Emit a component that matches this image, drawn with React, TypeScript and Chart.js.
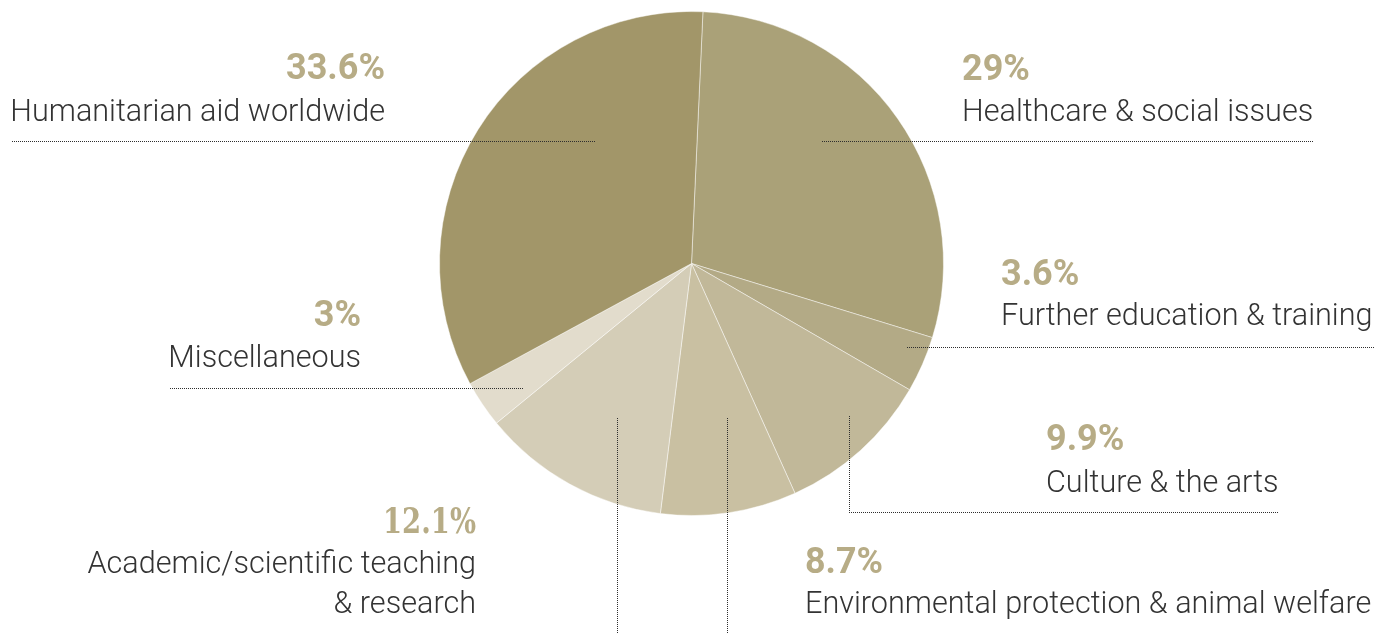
import React, { useEffect, useRef } from "react";
import { Chart, registerables } from "chart.js";

Chart.register(...registerables);

const categories = [
  "Healthcare & social issues",
  "Further education & training",
  "Culture & the arts",
  "Environmental protection & animal welfare",
  "Academic/scientific teaching & research",
  "Miscellaneous",
  "Humanitarian aid worldwide",
];
const shares = [29, 3.6, 9.9, 8.7, 12.1, 3, 33.6];
const percentLabels = ["29%", "3.6%", "9.9%", "8.7%", "12.1%", "3%", "33.6%"];
const sliceColors = ["#aaa178", "#b3aa86", "#c1b899", "#c9c0a2", "#d4cdb7", "#e2dccc", "#a29669"];

type Layout = {
  align: CanvasTextAlign;
  x: number;
  pctY: number;
  lines: string[];
  lineYs: number[];
  maxWidth?: number;
  pctMaxWidth?: number;
  pctFont?: string;
  leader: number[][];
};

// label layout (annotation positions), same order as categories
const labelLayout: Layout[] = [
  { align: "left", x: 962, pctY: 80, lines: ["Healthcare & social issues"], lineYs: [121], leader: [[822, 141], [1313, 141]] },
  { align: "left", x: 1001, pctY: 285, lines: ["Further education & training"], lineYs: [325], leader: [[907, 347], [1374, 347]] },
  { align: "left", x: 1046, pctY: 450, lines: ["Culture & the arts"], lineYs: [492], leader: [[849, 416], [849, 512], [1278, 512]] },
  { align: "left", x: 805, pctY: 573, lines: ["Environmental protection & animal welfare"], lineYs: [613], maxWidth: 569, pctMaxWidth: 78, leader: [[727, 418], [727, 640]] },
  { align: "right", x: 476, pctY: 533, lines: ["Academic/scientific teaching", "& research"], lineYs: [573, 613], pctMaxWidth: 93, pctFont: "bold 36px 'DejaVu Serif', serif", leader: [[617, 418], [617, 640]] },
  { align: "right", x: 361, pctY: 326, lines: ["Miscellaneous"], lineYs: [367], leader: [[170, 388], [522, 388]] },
  { align: "right", x: 385, pctY: 79, lines: ["Humanitarian aid worldwide"], lineYs: [121], leader: [[12, 141], [595, 141]] },
];

function dottedSegment(ctx: CanvasRenderingContext2D, x0: number, y0: number, x1: number, y1: number) {
  const len = Math.max(Math.abs(x1 - x0), Math.abs(y1 - y0));
  for (let s = 0; s <= len; s += 2) {
    const t = len === 0 ? 0 : s / len;
    const px = Math.round(x0 + (x1 - x0) * t);
    const py = Math.round(y0 + (y1 - y0) * t);
    ctx.fillRect(px, py, 1, 1);
  }
}

const labelPlugin = {
  id: "pieLabels",
  afterDraw(chart: any) {
    const ctx = chart.ctx as CanvasRenderingContext2D;
    ctx.save();
    labelLayout.forEach((l, i) => {
      ctx.fillStyle = "#2e2e2e";
      for (let j = 1; j < l.leader.length; j++) {
        const a = l.leader[j - 1];
        const b = l.leader[j];
        dottedSegment(ctx, a[0], a[1], b[0], b[1]);
      }

      ctx.textAlign = l.align;
      ctx.textBaseline = "alphabetic";
      ctx.fillStyle = "#b7ac86";
      ctx.font = l.pctFont || "bold 36px Roboto, 'Noto Sans', sans-serif";
      if (l.pctMaxWidth) ctx.fillText(percentLabels[i], l.x, l.pctY, l.pctMaxWidth);
      else ctx.fillText(percentLabels[i], l.x, l.pctY);

      ctx.fillStyle = "#333333";
      ctx.font = "300 30.6px Roboto, 'Noto Sans', sans-serif";
      l.lines.forEach((t, k) => {
        if (l.maxWidth) ctx.fillText(t, l.x, l.lineYs[k], l.maxWidth);
        else ctx.fillText(t, l.x, l.lineYs[k]);
      });
    });
    ctx.restore();
  },
};

export default function App() {
  const ref = useRef<HTMLCanvasElement>(null);
  useEffect(() => {
    if (!ref.current) return;
    const chart = new Chart(ref.current, {
      type: "pie",
      data: {
        labels: categories,
        datasets: [
          {
            data: shares,
            backgroundColor: sliceColors,
            borderColor: "rgba(255,255,255,0.45)",
            borderWidth: 1,
          },
        ],
      },
      options: {
        responsive: false,
        animation: false,
        rotation: 2.6,
        layout: { padding: { left: 439, right: 450, top: 11, bottom: 117 } },
        plugins: { legend: { display: false }, tooltip: { enabled: false } },
      },
      plugins: [labelPlugin],
    });
    return () => chart.destroy();
  }, []);
  return (
    <div style={{ position: "fixed", left: 0, top: 0, width: 1394, height: 633, background: "#fff" }}>
      <canvas ref={ref} width={1394} height={633} style={{ width: 1394, height: 633, display: "block" }} />
    </div>
  );
}
